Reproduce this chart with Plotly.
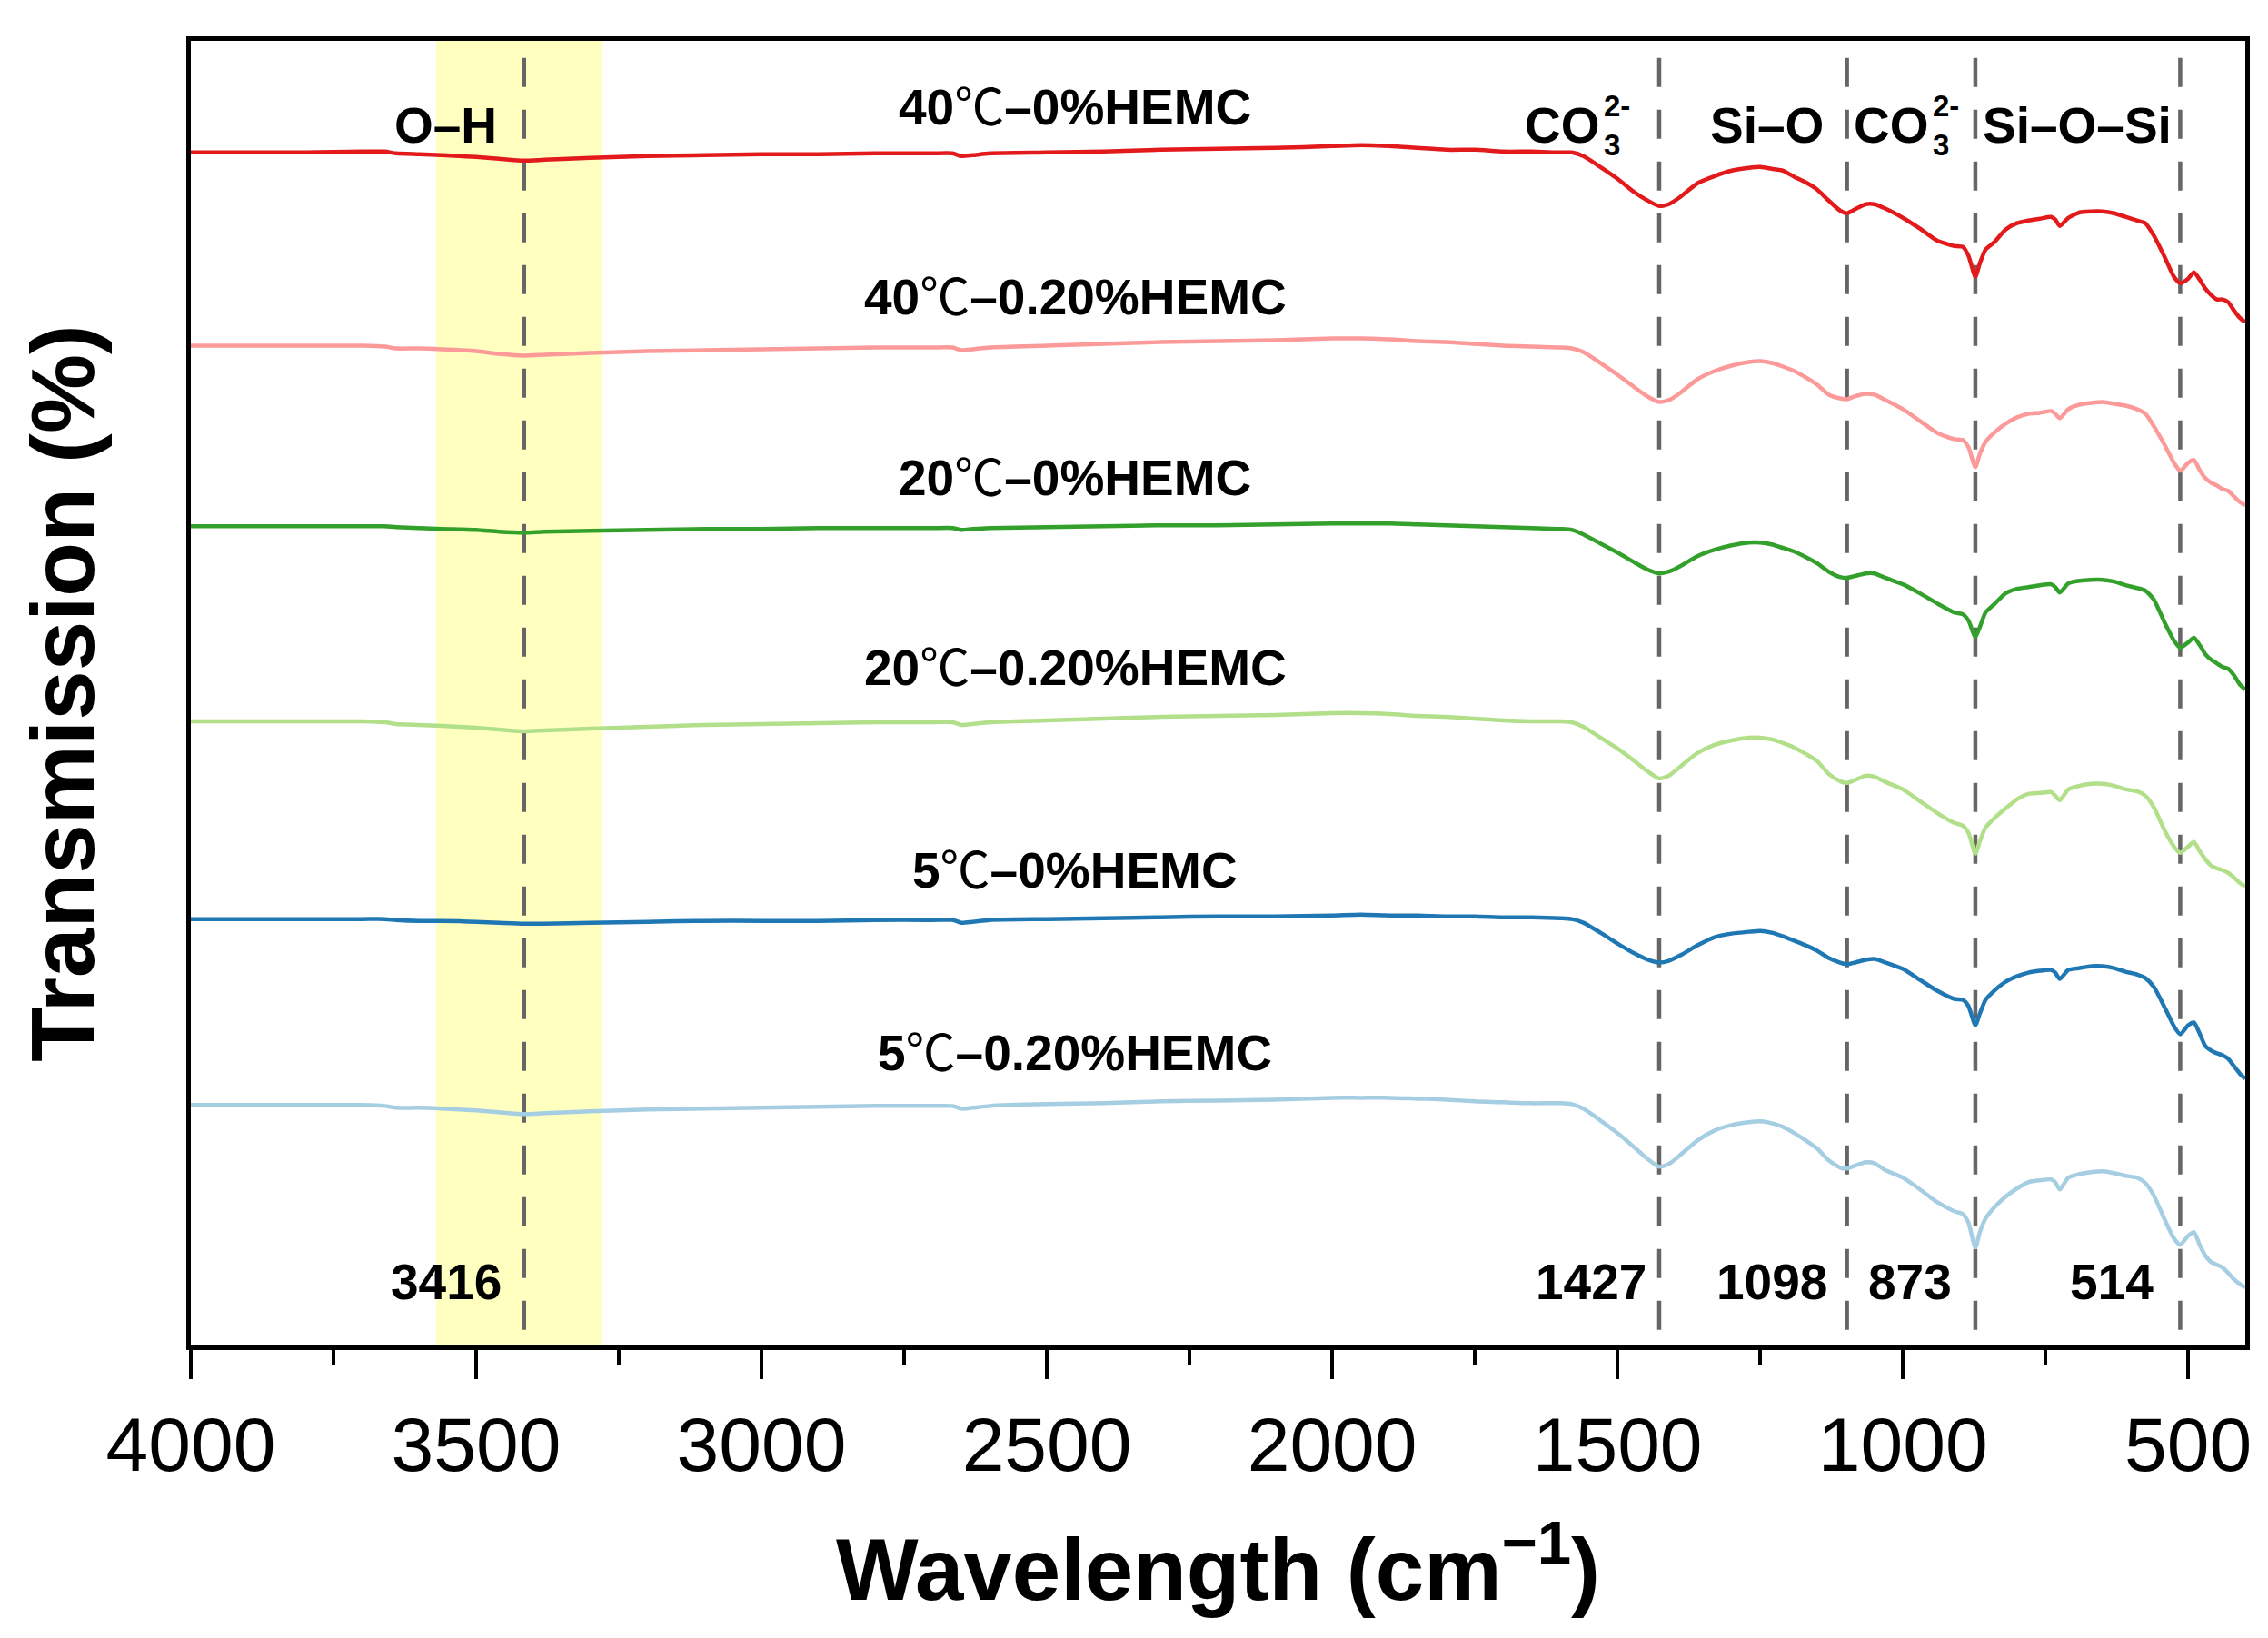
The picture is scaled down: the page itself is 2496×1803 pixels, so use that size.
import plotly.graph_objects as go

# wavenumber grid (cm-1) the spectra were read at
wavenumber = [
    4000, 3900, 3800, 3700, 3660, 3640, 3600, 3560, 3500, 3460,
    3416, 3380, 3300, 3200, 3100, 3000, 2900, 2800, 2700, 2665,
    2650, 2630, 2600, 2500, 2400, 2300, 2200, 2100, 2000, 1950,
    1900, 1850, 1800, 1750, 1700, 1650, 1600, 1580, 1560, 1530,
    1500, 1470, 1450, 1427, 1410, 1390, 1360, 1330, 1300, 1270,
    1250, 1230, 1210, 1190, 1170, 1150, 1130, 1110, 1098, 1085,
    1065, 1050, 1030, 1000, 970, 940, 910, 895, 885, 873,
    865, 855, 840, 820, 800, 780, 760, 740, 733, 725,
    710, 690, 670, 650, 630, 610, 590, 575, 560, 540,
    525, 514, 500, 490, 480, 470, 460, 450, 440, 430,
    420, 410, 400,
]

# transmission change of each sample relative to its 4000 cm-1 value
t_40_0 = [
    0, 0, 0, 0.1, 0.1, -0.1, -0.2, -0.3, -0.5, -0.7,
    -0.9, -0.8, -0.6, -0.4, -0.3, -0.2, -0.2, -0.1, -0.1, -0.1,
    -0.4, -0.3, -0.1, 0, 0.1, 0.3, 0.4, 0.5, 0.7, 0.8,
    0.7, 0.5, 0.3, 0.3, 0.1, 0.1, 0, 0, -0.4, -1.6,
    -2.9, -4.4, -5.2, -5.9, -5.7, -4.9, -3.4, -2.6, -2.0, -1.7,
    -1.6, -1.8, -2.0, -2.7, -3.3, -4.1, -5.3, -6.4, -6.7, -6.3,
    -5.7, -5.7, -6.2, -7.2, -8.4, -9.7, -10.3, -10.4, -11.4, -13.7,
    -12.2, -10.7, -9.9, -8.5, -7.8, -7.5, -7.3, -7.1, -7.4, -8.1,
    -7.2, -6.6, -6.5, -6.5, -6.7, -7.1, -7.5, -7.8, -9.2, -11.7,
    -13.7, -14.4, -13.9, -13.2, -14.0, -15.0, -15.7, -16.2, -16.2, -16.5,
    -17.4, -18.2, -18.7,
]
t_40_020 = [
    0, 0, 0, 0, -0.1, -0.3, -0.3, -0.4, -0.6, -0.9,
    -1.1, -1.0, -0.8, -0.6, -0.5, -0.4, -0.3, -0.2, -0.2, -0.2,
    -0.5, -0.4, -0.2, 0, 0.2, 0.4, 0.5, 0.6, 0.8, 0.8,
    0.7, 0.5, 0.4, 0.2, 0.0, -0.1, -0.2, -0.3, -0.7, -1.9,
    -3.2, -4.6, -5.5, -6.2, -6.0, -5.2, -3.7, -2.8, -2.2, -1.8,
    -1.7, -1.9, -2.3, -2.8, -3.5, -4.3, -5.4, -5.8, -5.9, -5.6,
    -5.3, -5.4, -6.0, -7.0, -8.3, -9.6, -10.3, -10.4, -11.2, -13.4,
    -11.9, -10.6, -9.6, -8.6, -7.9, -7.5, -7.4, -7.2, -7.5, -8.0,
    -7.0, -6.5, -6.3, -6.2, -6.4, -6.6, -7.0, -7.5, -8.9, -11.1,
    -12.9, -13.8, -12.9, -12.6, -13.7, -14.6, -15.1, -15.4, -15.8, -16.0,
    -16.6, -17.2, -17.6,
]
t_20_0 = [
    0, 0, 0, 0, 0, -0.1, -0.2, -0.3, -0.4, -0.6,
    -0.7, -0.6, -0.5, -0.4, -0.3, -0.3, -0.2, -0.2, -0.2, -0.2,
    -0.4, -0.3, -0.2, -0.1, 0, 0.1, 0.1, 0.2, 0.3, 0.3,
    0.3, 0.2, 0.1, 0.0, -0.1, -0.2, -0.3, -0.4, -0.9, -1.9,
    -2.9, -4.0, -4.7, -5.2, -5.0, -4.4, -3.3, -2.6, -2.1, -1.8,
    -1.8, -2.0, -2.4, -2.8, -3.4, -4.1, -5.0, -5.6, -5.7, -5.5,
    -5.2, -5.2, -5.7, -6.4, -7.4, -8.5, -9.5, -9.7, -10.4, -12.2,
    -11.1, -9.5, -8.6, -7.4, -6.9, -6.7, -6.5, -6.4, -6.7, -7.3,
    -6.3, -6.0, -5.9, -5.9, -6.1, -6.5, -6.8, -7.1, -8.1, -10.8,
    -12.6, -13.4, -12.8, -12.3, -13.1, -14.1, -14.7, -15.1, -15.5, -15.7,
    -16.4, -17.4, -18.0,
]
t_20_020 = [
    0, 0, 0, 0, -0.1, -0.3, -0.4, -0.5, -0.7, -0.9,
    -1.1, -1.0, -0.8, -0.6, -0.4, -0.3, -0.2, -0.1, -0.1, -0.1,
    -0.4, -0.3, -0.1, 0.1, 0.3, 0.5, 0.6, 0.7, 0.9, 0.9,
    0.8, 0.6, 0.5, 0.3, 0.1, 0.0, 0.0, -0.1, -0.6, -1.8,
    -3.0, -4.4, -5.4, -6.3, -6.0, -5.0, -3.5, -2.6, -2.1, -1.8,
    -1.8, -2.0, -2.4, -2.9, -3.6, -4.4, -5.8, -6.6, -6.8, -6.5,
    -6.0, -6.1, -6.7, -7.5, -8.8, -10.1, -11.2, -11.5, -12.3, -14.6,
    -13.2, -11.7, -10.7, -9.6, -8.6, -8.0, -7.9, -7.8, -8.2, -8.7,
    -7.5, -7.1, -6.9, -6.9, -7.1, -7.5, -7.7, -8.2, -9.5, -12.2,
    -13.8, -14.5, -13.8, -13.3, -14.3, -15.2, -15.9, -16.2, -16.4, -16.7,
    -17.2, -17.8, -18.2,
]
t_5_0 = [
    0, 0, 0, 0, 0, -0.1, -0.2, -0.2, -0.3, -0.4,
    -0.5, -0.5, -0.4, -0.3, -0.2, -0.2, -0.2, -0.1, -0.1, -0.1,
    -0.4, -0.3, -0.1, 0, 0.1, 0.2, 0.3, 0.3, 0.4, 0.5,
    0.4, 0.4, 0.3, 0.3, 0.2, 0.2, 0.1, 0.0, -0.4, -1.5,
    -2.7, -3.8, -4.4, -4.8, -4.6, -4.0, -2.9, -2.0, -1.6, -1.4,
    -1.3, -1.5, -1.9, -2.4, -2.9, -3.5, -4.3, -4.8, -5.0, -4.8,
    -4.5, -4.4, -4.8, -5.5, -6.7, -7.9, -8.8, -8.9, -9.6, -11.7,
    -10.4, -8.9, -7.9, -6.9, -6.3, -5.9, -5.7, -5.6, -5.9, -6.6,
    -5.6, -5.4, -5.2, -5.2, -5.4, -5.8, -6.1, -6.5, -7.5, -9.9,
    -11.8, -12.7, -11.7, -11.4, -12.6, -14.0, -14.5, -14.8, -15.0, -15.4,
    -16.2, -17.0, -17.6,
]
t_5_020 = [
    0, 0, 0, 0, -0.1, -0.3, -0.3, -0.4, -0.6, -0.8,
    -1.0, -0.9, -0.7, -0.5, -0.4, -0.3, -0.2, -0.1, -0.1, -0.1,
    -0.4, -0.3, -0.1, 0.1, 0.2, 0.4, 0.5, 0.6, 0.8, 0.8,
    0.8, 0.7, 0.6, 0.4, 0.3, 0.2, 0.2, 0.1, -0.4, -1.7,
    -3.1, -4.7, -5.8, -6.8, -6.5, -5.5, -3.9, -2.8, -2.2, -1.9,
    -1.8, -2.0, -2.4, -3.1, -3.9, -4.8, -6.1, -6.9, -7.0, -6.7,
    -6.3, -6.4, -7.2, -8.0, -9.3, -10.7, -11.7, -12.0, -13.0, -15.7,
    -14.0, -12.5, -11.3, -10.1, -9.2, -8.5, -8.3, -8.2, -8.5, -9.3,
    -8.0, -7.6, -7.4, -7.3, -7.5, -7.8, -8.0, -8.6, -10.0, -12.8,
    -14.7, -15.4, -14.4, -14.0, -15.4, -16.6, -17.3, -17.6, -17.9, -18.5,
    -19.2, -19.7, -20.1,
]

spectra = [t_40_0, t_40_020, t_20_0, t_20_020, t_5_0, t_5_020]
temps = ["40", "40", "20", "20", "5", "5"]
doses = ["0", "0.20", "0", "0.20", "0", "0.20"]
offsets = [131.5, 110.2, 90.3, 68.8, 47.0, 26.5]
colors = ["#E31A1C", "#FB9A99", "#33A02C", "#B2DF8A", "#1F78B4", "#A6CEE3"]

peaks = [3416, 1427, 1098, 873, 514]
peak_text_x = [3553, 1546, 1229, 987, 634]
oh_band = [3570, 3280]

FONT = "Liberation Sans, Arial, Noto Sans CJK SC, sans-serif"

fig = go.Figure()

for vals, off, col, t, d in zip(spectra, offsets, colors, temps, doses):
    fig.add_trace(go.Scatter(
        x=wavenumber, y=[v + off for v in vals], mode="lines",
        line=dict(color=col, width=4.5, shape="spline", smoothing=0.6),
        name=t + "℃–" + d + "%HEMC", showlegend=False))

# O-H band
fig.add_shape(type="rect", xref="x", yref="paper", x0=oh_band[0], x1=oh_band[1],
              y0=0, y1=1, fillcolor="#FFFFC0", line_width=0, layer="below")
for p in peaks:
    fig.add_shape(type="line", xref="x", yref="paper", x0=p, x1=p, y0=0.012, y1=1,
                  line=dict(color="#666666", width=4.5, dash="32px,25px"), layer="below")

# sample labels
label_y = [136.5, 115.6, 95.6, 74.7, 52.4, 32.2]
for t, d, ly in zip(temps, doses, label_y):
    fig.add_annotation(x=2450, y=ly, text="<b>" + t + "</b>℃<b>–" + d + "%HEMC</b>",
                       showarrow=False, font=dict(family=FONT, size=55, color="black"))

# group labels
group_y = 134.5
fig.add_annotation(x=3554, y=group_y, text="<b>O–H</b>", showarrow=False,
                   font=dict(family=FONT, size=55, color="black"))
fig.add_annotation(x=1239, y=group_y, text="<b>Si–O</b>", showarrow=False,
                   font=dict(family=FONT, size=55, color="black"))
fig.add_annotation(x=694, y=group_y, text="<b>Si–O–Si</b>", showarrow=False,
                   font=dict(family=FONT, size=55, color="black"))
for cx in [1527, 951]:
    fig.add_annotation(x=cx, y=group_y, text="<b>CO</b>", showarrow=False, xanchor="right",
                       font=dict(family=FONT, size=55, color="black"))
    fig.add_annotation(x=cx, y=group_y, text="<b>2-<br>3</b>", showarrow=False, xanchor="left",
                       align="left", font=dict(family=FONT, size=33, color="black"))

# peak positions
for px, p in zip(peak_text_x, peaks):
    fig.add_annotation(x=px, y=7.0, text="<b>" + str(p) + "</b>", showarrow=False,
                       font=dict(family=FONT, size=55, color="black"))

fig.update_layout(
    width=2496, height=1803,
    margin=dict(l=202, r=33, t=37, b=330),
    paper_bgcolor="white", plot_bgcolor="white",
    font=dict(family=FONT, color="black"),
)
fig.update_xaxes(
    range=[4000, 400], dtick=500, tick0=0,
    showline=True, mirror=True, linecolor="black", linewidth=5,
    ticks="outside", ticklen=32, tickwidth=4, tickcolor="black",
    minor=dict(dtick=250, ticks="outside", ticklen=17, tickwidth=4, tickcolor="black"),
    showgrid=False, zeroline=False,
    tickfont=dict(family=FONT, size=84, color="black"),
    title=dict(text="<b>Wavelength (cm<sup>−1</sup>)</b>", standoff=60,
               font=dict(family=FONT, size=96, color="black")),
)
fig.update_yaxes(
    range=[0, 143.8], showticklabels=False, ticks="",
    showline=True, mirror=True, linecolor="black", linewidth=5,
    showgrid=False, zeroline=False,
    title=dict(text="<b>Transmission (%)</b>", standoff=70,
               font=dict(family=FONT, size=98, color="black")),
)

fig.write_html("out.html")
